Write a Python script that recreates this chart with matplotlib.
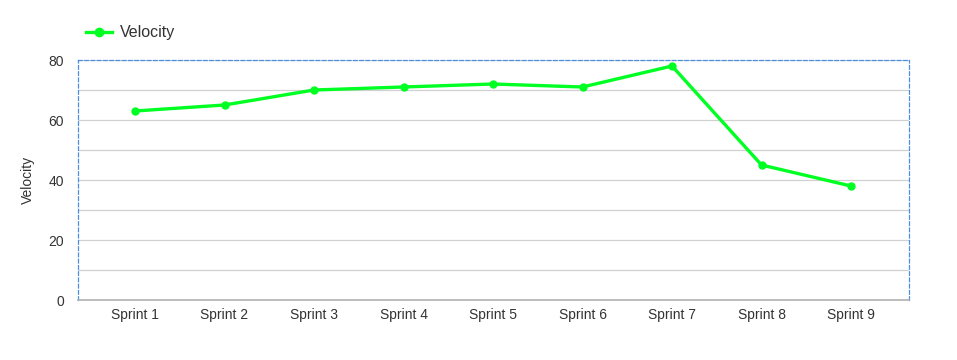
import matplotlib.pyplot as plt
from matplotlib.lines import Line2D

plt.rcParams['font.family'] = ['Liberation Sans', 'DejaVu Sans']

sprints = ['Sprint 1', 'Sprint 2', 'Sprint 3', 'Sprint 4', 'Sprint 5',
           'Sprint 6', 'Sprint 7', 'Sprint 8', 'Sprint 9']
velocity = [63, 65, 70, 71, 72, 71, 78, 45, 38]
y_ticks = [0, 20, 40, 60, 80]

W, H = 957, 360
fig = plt.figure(figsize=(W / 100, H / 100), dpi=100)
ax = fig.add_axes([78 / W, 60 / H, (909 - 78) / W, 240 / H])

x = list(range(len(sprints)))
ax.plot(x, velocity, color='#00ff22', lw=2.4, marker='o', ms=5, zorder=3,
        solid_joinstyle='round')

ax.set_xlim(-0.637, len(sprints) - 1 + 0.648)
ax.set_ylim(0, 80)
ax.set_yticks(y_ticks)
ax.set_yticks(range(0, 81, 10), minor=True)
ax.set_xticks(x)
ax.set_xticklabels(sprints)
ax.grid(axis='y', which='both', color='#d0d0d0', lw=0.9)
ax.set_axisbelow(True)
ax.tick_params(axis='both', which='both', length=0, colors='#333333',
               labelsize=10)
ax.tick_params(axis='x', pad=6)
ax.tick_params(axis='y', pad=10)
ax.set_ylabel('Velocity', fontsize=10, color='#333333', labelpad=10)

for side in ['left', 'top', 'right']:
    ax.spines[side].set_color('#4a90e2')
    ax.spines[side].set_linestyle((0, (3, 2)))
    ax.spines[side].set_linewidth(0.9)
ax.spines['bottom'].set_color('#b0b0b0')
ax.spines['bottom'].set_linewidth(1.2)

handle = Line2D([], [], color='#00ff22', lw=2.4, marker='o', ms=6)
fig.legend([handle], ['Velocity'], loc='center left',
           bbox_to_anchor=(72 / W, 1 - 33 / H), frameon=False,
           fontsize=11.5, handlelength=1.6, handletextpad=0.5,
           labelcolor='#333333')

fig.savefig('out.png', dpi=100)
